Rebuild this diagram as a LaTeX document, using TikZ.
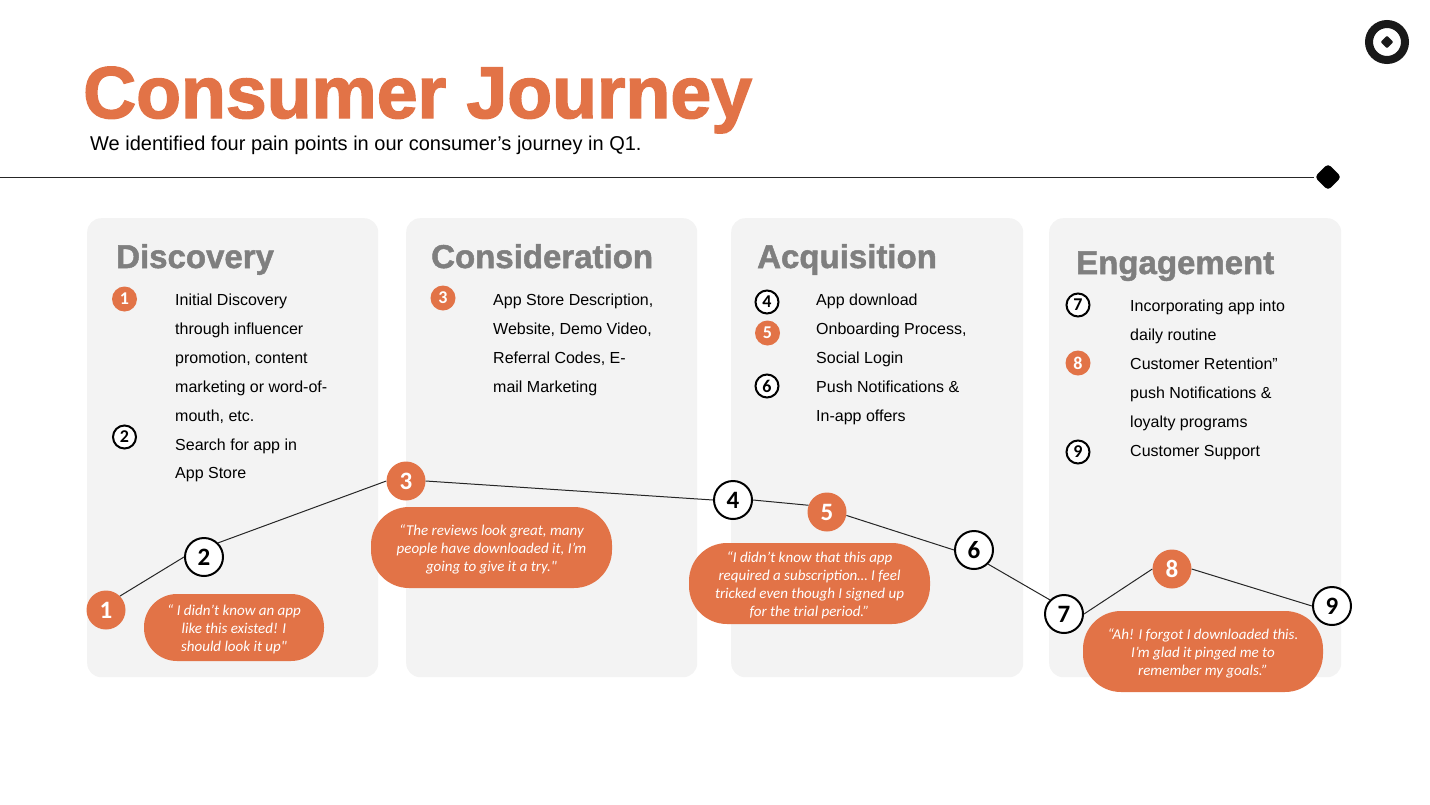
\documentclass[tikz,border=0pt]{standalone}
\usepackage{fontspec}
\setmainfont{Liberation Sans}
\newfontfamily\titlefont[FakeBold=2]{Liberation Sans Bold}
\newfontfamily\headfont[FakeBold=1.5]{Liberation Sans Bold}
\newfontfamily\bubblefont{Carlito}
\usetikzlibrary{shapes.geometric}
\definecolor{orangeJ}{HTML}{E27347}
\definecolor{panelJ}{HTML}{F3F3F3}
\definecolor{headJ}{HTML}{7F7F7F}
\newcommand\lowerfirst{\rule{0pt}{15pt}}
\tikzset{
  panel/.style={fill=panelJ,draw=none,rounded corners=14pt,anchor=north west,inner sep=0pt},
  heading/.style={anchor=base west,inner sep=0pt,text=headJ,font=\headfont\fontsize{33}{36}\selectfont},
  body/.style={anchor=north west,inner sep=0pt,align=left,text=black,font=\fontsize{16}{28.85}\selectfont},
  stepO/.style={circle,fill=orangeJ,draw=none,minimum size=39pt,inner sep=0pt,text=white,font=\bubblefont\bfseries\fontsize{25}{25}\selectfont},
  stepK/.style={circle,fill=white,draw=black,line width=2pt,minimum size=38pt,inner sep=0pt,text=black,font=\bubblefont\bfseries\fontsize{25}{25}\selectfont},
  markO/.style={circle,fill=orangeJ,draw=none,minimum size=25pt,inner sep=0pt,text=white,font=\bubblefont\bfseries\fontsize{18}{18}\selectfont},
  markK/.style={circle,fill=white,draw=black,line width=2pt,minimum size=23pt,inner sep=0pt,text=black,font=\bubblefont\bfseries\fontsize{18}{18}\selectfont},
  bubble/.style={fill=orangeJ,draw=none,rounded corners=38pt,inner sep=0pt,align=center,text=white,font=\bubblefont\itshape\fontsize{15}{18}\selectfont},
  link/.style={draw=black!85,line width=1pt},
}
\begin{document}
\begin{tikzpicture}[x=1pt,y=-1pt]
\useasboundingbox (0,0) rectangle (1430,804);
% title
\node[anchor=base west,inner sep=0pt,text=orangeJ,font=\titlefont\fontsize{73.4}{80}\selectfont] (title) at (83,118) {Consumer Journey};
\node[anchor=base west,inner sep=0pt,font=\fontsize{20}{24}\selectfont] (subtitle) at (90,150) {We identified four pain points in our consumer’s journey in Q1.};
% logo
\node[circle,draw=black!90,line width=8pt,minimum size=36pt,inner sep=0pt] (logo) at (1387,42) {};
\node[diamond,fill=black!90,minimum size=13pt,inner sep=0pt,rounded corners=1pt] (logodot) at (1387,42) {};
% rule
\node[diamond,fill=black,minimum size=27pt,inner sep=0pt,rounded corners=4pt] (ruleend) at (1328,177) {};
\coordinate (rulestart) at (0,177);
\draw[black!85,line width=1pt] (rulestart) -- (ruleend);
% panels
\node[panel,minimum width=291pt,minimum height=459pt] (p1) at (87,218) {};
\node[panel,minimum width=291pt,minimum height=459pt] (p2) at (406,218) {};
\node[panel,minimum width=292pt,minimum height=459pt] (p3) at (731,218) {};
\node[panel,minimum width=292pt,minimum height=459pt] (p4) at (1049,218) {};
% headings
\node[heading] (h1) at (116,268) {Discovery};
\node[heading] (h2) at (431,268) {Consideration};
\node[heading] (h3) at (757,268) {Acquisition};
\node[heading] (h4) at (1076,274) {Engagement};
% panel 1 list
\node[markO] (m1) at (124.5,299) {1};
\node[body] (t1) at (175,294) {Initial Discovery\\through influencer\\promotion, content\\marketing or word-of-\\mouth, etc.\\Search for app in\\App Store};
\node[markK] (m2) at (124.5,437) {2};
% panel 2 list
\node[markO] (m3) at (443,298) {3};
\node[body] (t2) at (493,294) {App Store Description,\\Website, Demo Video,\\Referral Codes, E-\\mail Marketing};
% panel 3 list
\node[markK] (m4) at (767,302) {4};
\node[markO] (m5) at (767.5,333) {5};
\node[markK] (m6) at (767,386) {6};
\node[body] (t3) at (816,294) {App download\\Onboarding Process,\\Social Login\\Push Notifications \&\\In-app offers};
% panel 4 list
\node[markK] (m7) at (1078,305) {7};
\node[markO] (m8) at (1078,363) {8};
\node[markK] (m9) at (1078,452) {9};
\node[body] (t4) at (1130,300) {Incorporating app into\\daily routine\\Customer Retention”\\push Notifications \&\\loyalty programs\\Customer Support};
% journey nodes
\node[stepO] (s1) at (106,610) {1};
\node[stepK] (s2) at (204,557) {2};
\node[stepO] (s3) at (406,481) {3};
\node[stepK] (s4) at (733,500) {4};
\node[stepO] (s5) at (827,512) {5};
\node[stepK] (s6) at (974,550) {6};
\node[stepK] (s7) at (1064,614) {7};
\node[stepO] (s8) at (1172,569) {8};
\node[stepK] (s9) at (1332,606) {9};
\draw[link] (s1.north east) -- (s2.west);
\draw[link] (s2.north east) -- (s3.west);
\draw[link] (s3.east) -- (s4.west);
\draw[link] (s4.east) -- (s5.160);
\draw[link] (s5.-10) -- (s6.west);
\draw[link] (s6.south east) -- (s7.north west);
\draw[link] (s7.east) -- (s8.west);
\draw[link] (s8.east) -- (s9.west);
% bubbles
\node[bubble,minimum width=180pt,minimum height=67pt,rounded corners=33pt] (b1) at (234,627.5) {\lowerfirst“ I didn’t know an app\\like this existed! I\\should look it up"};
\node[bubble,minimum width=241pt,minimum height=81pt] (b2) at (491.5,547.5) {\lowerfirst“The reviews look great, many\\people have downloaded it, I’m\\going to give it a try."};
\node[bubble,minimum width=241pt,minimum height=81pt] (b3) at (809.5,583.5) {\lowerfirst“I didn’t know that this app\\required a subscription… I feel\\tricked even though I signed up\\for the trial period.”};
\node[bubble,minimum width=240pt,minimum height=81pt] (b4) at (1203,651.5) {\lowerfirst“Ah! I forgot I downloaded this.\\I’m glad it pinged me to\\remember my goals.”};
\end{tikzpicture}
\end{document}
